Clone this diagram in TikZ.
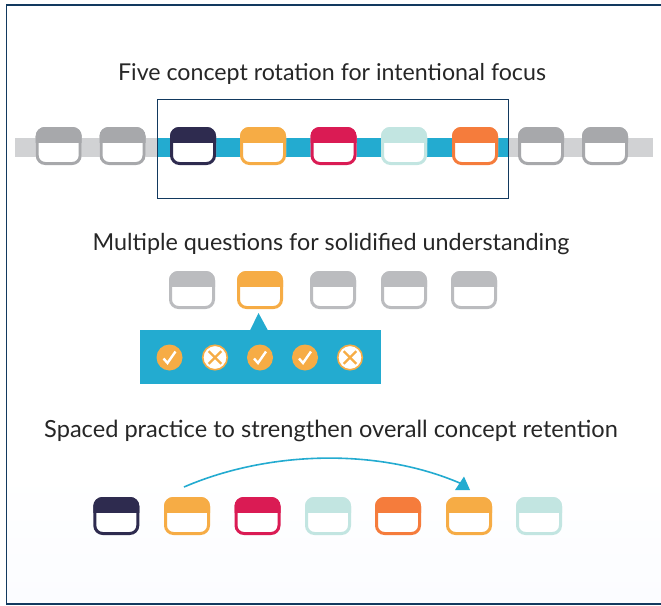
\documentclass[tikz,border=0pt]{standalone}
\usepackage{fontspec}
\setmainfont{Lato}
\usetikzlibrary{shapes.geometric}
\definecolor{navy}{HTML}{2E2B4F}
\definecolor{gold}{HTML}{F6AC45}
\definecolor{crim}{HTML}{DA1B54}
\definecolor{mint}{HTML}{C2E5E1}
\definecolor{orng}{HTML}{F57C3C}
\definecolor{grayA}{HTML}{A7A8AB}
\definecolor{grayB}{HTML}{BBBCBF}
\definecolor{sky}{HTML}{23ABD0}
\definecolor{barg}{HTML}{D1D2D4}
\definecolor{frame}{HTML}{12395F}
\definecolor{paleblue}{HTML}{FBFCFF}
\tikzset{
  headline/.style={font=\fontsize{#1}{28}\selectfont, text=black!85, inner sep=0pt, anchor=base},
  box/.style={draw=frame, line width=1pt},
  yes/.style={circle, fill=gold, minimum size=26pt, inner sep=0pt},
  no/.style={circle, fill=white, draw=gold, line width=1.6pt, minimum size=24.5pt, inner sep=0pt},
  mark line/.style={white, line width=2.4pt},
  cross line/.style={gold, line width=2.4pt}
}
\newcommand{\card}[4]{% name, left x, top y, colour
  \begin{scope}[shift={(#2,#3)}]
    \node[minimum width=46pt, minimum height=38pt, inner sep=0pt, anchor=north west] (#1) at (0,0) {};
    \fill[white, rounded corners=9pt] (0,0) rectangle (46,38);
    \begin{scope}
      \clip (0,0) rectangle (46,15.5);
      \fill[#4, rounded corners=9pt] (0,0) rectangle (46,38);
    \end{scope}
    \draw[#4, line width=3pt, rounded corners=8pt] (1.5,1.5) rectangle (44.5,36.5);
  \end{scope}}
\begin{document}
\begin{tikzpicture}[x=1pt,y=-1pt]
\useasboundingbox (0,0) rectangle (661,605);
\shade[top color=white, bottom color=paleblue] (7,470) rectangle (661,604);
\draw[frame, line width=1.4pt] (661,4.8) -- (6.6,4.8) -- (6.6,604) -- (661,604);

\node[headline=23.2] (t1) at (332,80.5) {Five concept rotation for intentional focus};
\node[headline=23.35] (t2) at (331,250.5) {Multiple questions for solidified understanding};
\node[headline=23.6] (t3) at (331,437.5) {Spaced practice to strengthen overall concept retention};

% row 1
\fill[barg] (15,138) rectangle (653,157);
\fill[sky] (157.5,138) rectangle (508,157);
\draw[box] (157.5,99) rectangle (508,198);
\card{a1}{35.7}{127}{grayA}
\card{a2}{99.5}{127}{grayA}
\card{a3}{170}{127}{navy}
\card{a4}{240}{127}{gold}
\card{a5}{310.5}{127}{crim}
\card{a6}{381}{127}{mint}
\card{a7}{452}{127}{orng}
\card{a8}{518}{127}{grayA}
\card{a9}{582}{127}{grayA}

% row 2
\card{b1}{169}{271}{grayB}
\card{b2}{237}{271}{gold}
\card{b3}{310}{271}{grayB}
\card{b4}{381}{271}{grayB}
\card{b5}{451}{271}{grayB}
\fill[sky] (140,330) rectangle (381,383.5);
\fill[sky] (250,330.5) -- (258.5,313) -- (268,330.5) -- cycle;
\node[yes] (c1) at (169.5,357.5) {};
\node[no]  (c2) at (215,357.5) {};
\node[yes] (c3) at (260,357.5) {};
\node[yes] (c4) at (305,357.5) {};
\node[no]  (c5) at (350,357.5) {};
\foreach \c in {c1,c3,c4}
  \draw[mark line] ([shift={(-6,1)}]\c.center) -- ([shift={(-2,5.5)}]\c.center) -- ([shift={(6,-6)}]\c.center);
\foreach \c in {c2,c5} {
  \draw[cross line] ([shift={(-6.3,-6.3)}]\c.center) -- ([shift={(6.3,6.3)}]\c.center);
  \draw[cross line] ([shift={(-6.3,6.3)}]\c.center) -- ([shift={(6.3,-6.3)}]\c.center);
}

% row 3
\card{d1}{93.3}{497}{navy}
\card{d2}{164}{497}{gold}
\card{d3}{234.5}{497}{crim}
\card{d4}{305}{497}{mint}
\card{d5}{375}{497}{orng}
\card{d6}{446}{497}{gold}
\card{d7}{516}{497}{mint}
\coordinate (s) at (184,487);
\coordinate (e) at (462,484);
\draw[sky, line width=1.6pt] (s) .. controls (270,450) and (380,448) .. (e);
\fill[sky] (464,476.5) -- (470,490) -- (455,490) -- cycle;
\end{tikzpicture}
\end{document}
